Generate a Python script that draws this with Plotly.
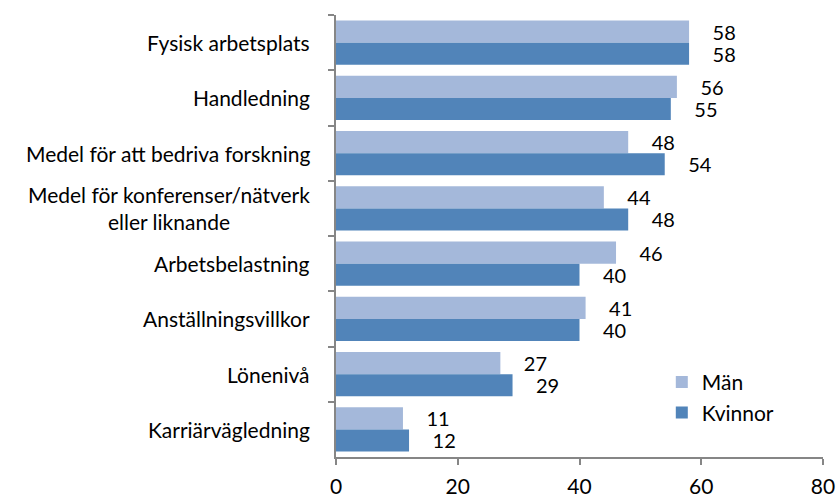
import plotly.graph_objects as go

categories = [
    "Fysisk arbetsplats",
    "Handledning",
    "Medel för att bedriva forskning",
    "Medel för konferenser/nätverk<br>eller liknande",
    "Arbetsbelastning",
    "Anställningsvillkor",
    "Lönenivå",
    "Karriärvägledning",
]
man = [58, 56, 48, 44, 46, 41, 27, 11]
kvinnor = [58, 55, 54, 48, 40, 40, 29, 12]
x_ticks = [0, 20, 40, 60, 80]

FONT = "Lato, 'Open Sans', sans-serif"
FS = 21
VAL_FS = 20
AXIS_COLOR = "#868686"
pad = "\u00a0\u00a0\u00a0\u00a0"

fig = go.Figure()
fig.add_trace(go.Bar(
    y=categories, x=man, name="Män", orientation="h",
    marker=dict(color="#A4B8DA", line=dict(width=0)),
    text=[f"{pad}{v}" for v in man], textposition="outside",
    textfont=dict(color="black", size=VAL_FS, family=FONT),
    constraintext="none", cliponaxis=False, legendgroup="m",
))
fig.add_trace(go.Bar(
    y=categories, x=kvinnor, name="Kvinnor", orientation="h",
    marker=dict(color="#5184B9", line=dict(width=0)),
    text=[f"{pad}{v}" for v in kvinnor], textposition="outside",
    textfont=dict(color="black", size=VAL_FS, family=FONT),
    constraintext="none", cliponaxis=False, legendgroup="k",
))

# category labels, centred line by line
annotations = [
    dict(x=-24 / 487, y=c, xref="paper", yref="y", text=c, showarrow=False,
         xanchor="right", align="center",
         font=dict(size=FS, color="black", family=FONT))
    for c in categories
]

fig.update_layout(
    width=840, height=500,
    margin=dict(l=336, r=17, t=15, b=43),
    paper_bgcolor="white", plot_bgcolor="white",
    barmode="group", bargap=0.2, bargroupgap=0,
    font=dict(family=FONT, size=FS, color="black"),
    showlegend=True,
    legend=dict(x=0.669, y=0.215, xanchor="left", yanchor="top",
                traceorder="normal", tracegroupgap=14,
                font=dict(size=FS, color="black", family=FONT),
                bgcolor="rgba(0,0,0,0)"),
    annotations=annotations,
    uniformtext=dict(mode=False),
)
fig.update_xaxes(
    range=[0, 80], tickvals=x_ticks, ticktext=[str(t) for t in x_ticks],
    showgrid=False, zeroline=False, showline=True, linecolor=AXIS_COLOR,
    linewidth=1.5, ticks="outside", ticklen=6, tickcolor=AXIS_COLOR, tickwidth=1.5,
    tickfont=dict(size=FS, color="black", family=FONT), ticklabelstandoff=4,
    automargin=False,
)
fig.update_yaxes(
    autorange="reversed", showticklabels=False, showgrid=False,
    showline=True, linecolor=AXIS_COLOR, linewidth=1.5,
    ticks="outside", ticklen=6, tickcolor=AXIS_COLOR, tickwidth=1.5,
    tickson="boundaries", automargin=False,
)

fig.write_html("out.html")
